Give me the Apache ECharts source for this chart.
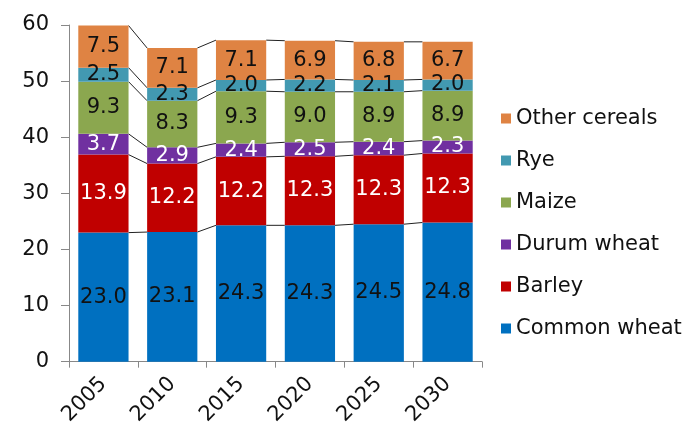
<!DOCTYPE html>
<html>
<head>
<meta charset="utf-8">
<script src="https://cdn.jsdelivr.net/npm/echarts@6/dist/echarts.min.js"></script>
<style>
  html, body { margin: 0; padding: 0; background: #fff; }
  #chart { width: 687px; height: 428px; }
</style>
</head>
<body>
<div id="chart"></div>
<script>
// 数据
var years = ['2005', '2010', '2015', '2020', '2025', '2030'];
var commonWheat = [23.0, 23.1, 24.3, 24.3, 24.5, 24.8];
var barley = [13.9, 12.2, 12.2, 12.3, 12.3, 12.3];
var durumWheat = [3.7, 2.9, 2.4, 2.5, 2.4, 2.3];
var maize = [9.3, 8.3, 9.3, 9.0, 8.9, 8.9];
var rye = [2.5, 2.3, 2.0, 2.2, 2.1, 2.0];
var otherCereals = [7.5, 7.1, 7.1, 6.9, 6.8, 6.7];
var yTicks = [0, 10, 20, 30, 40, 50, 60];

var font = 'DejaVu Sans';
var barRatio = 0.73;

var seriesDefs = [
    { name: 'Common wheat', data: commonWheat, color: '#0070C0', label: '#111' },
    { name: 'Barley', data: barley, color: '#C00000', label: '#fff' },
    { name: 'Durum wheat', data: durumWheat, color: '#7030A0', label: '#fff' },
    { name: 'Maize', data: maize, color: '#8BA74F', label: '#111' },
    { name: 'Rye', data: rye, color: '#4299B1', label: '#111' },
    { name: 'Other cereals', data: otherCereals, color: '#DF8343', label: '#111' }
];

// 累计值，用于画连接线
var cumLevels = [];
var run = years.map(() => 0);
seriesDefs.forEach(s => {
    run = run.map((v, i) => v + s.data[i]);
    cumLevels.push(run.slice());
});

var series = seriesDefs.map(s => ({
    name: s.name,
    type: 'bar',
    stack: 'total',
    barWidth: (barRatio * 100) + '%',
    data: s.data,
    itemStyle: { color: s.color },
    label: {
        show: true,
        position: 'inside',
        color: s.label,
        fontFamily: font,
        fontSize: 21,
        formatter: p => p.value.toFixed(1)
    }
}));

// 系列线（柱子之间的连线）
series.push({
    type: 'custom',
    name: 'lines',
    data: years.slice(0, -1).map((y, i) => [i]),
    renderItem: function (params, api) {
        var i = params.dataIndex;
        var half = api.size([1, 0])[0] * barRatio / 2;
        var children = cumLevels.map(level => {
            var p1 = api.coord([i, level[i]]);
            var p2 = api.coord([i + 1, level[i + 1]]);
            return {
                type: 'line',
                shape: { x1: p1[0] + half, y1: p1[1], x2: p2[0] - half, y2: p2[1] },
                style: { stroke: '#222', lineWidth: 1 }
            };
        });
        return { type: 'group', children: children };
    },
    silent: true
});

var chart = echarts.init(document.getElementById('chart'));
chart.setOption({
    animation: false,
    grid: { left: 69, right: 205, top: 25, bottom: 66 },
    legend: {
        data: seriesDefs.map(s => s.name).reverse(),
        orient: 'vertical',
        left: 496,
        top: 103,
        itemWidth: 10,
        itemHeight: 10,
        itemGap: 21,
        icon: 'rect',
        textStyle: { fontFamily: font, fontSize: 21, color: '#111' }
    },
    xAxis: {
        type: 'category',
        data: years,
        axisLine: { lineStyle: { color: '#888' } },
        axisTick: { show: true, length: 6, lineStyle: { color: '#888' } },
        axisLabel: { rotate: 45, margin: 19, fontFamily: font, fontSize: 21, color: '#111' }
    },
    yAxis: {
        type: 'value',
        min: yTicks[0],
        max: yTicks[yTicks.length - 1],
        interval: 10,
        splitLine: { show: false },
        axisLine: { show: true, lineStyle: { color: '#888' } },
        axisTick: { show: true, length: 8, lineStyle: { color: '#888' } },
        axisLabel: { margin: 20, fontFamily: font, fontSize: 21, color: '#111' }
    },
    series: series
});
</script>
</body>
</html>
